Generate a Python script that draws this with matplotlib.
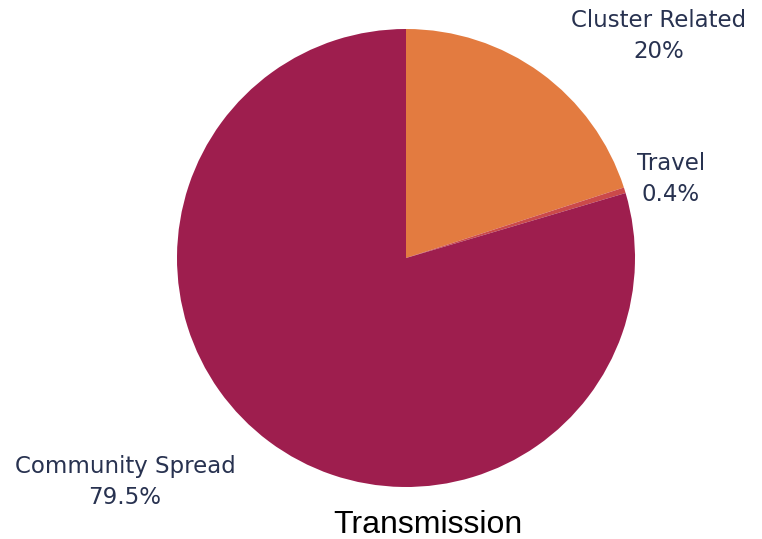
import matplotlib
matplotlib.use("Agg")
import matplotlib.pyplot as plt

categories = ["Cluster Related", "Travel", "Community Spread"]
values = [20.0, 0.4, 79.5]
pct_labels = ["20%", "0.4%", "79.5%"]
colors = ["#E37B40", "#CB4A4A", "#9E1E4E"]
title = "Transmission"

fig = plt.figure(figsize=(7.62, 5.39), dpi=100)
ax = fig.add_axes([(406 - 229) / 762, (539 - 487) / 539, 458 / 762, 458 / 539])
ax.pie(values, colors=colors, startangle=90, counterclock=False, radius=1.0,
       wedgeprops=dict(linewidth=0))
ax.set_xlim(-1, 1)
ax.set_ylim(-1, 1)
ax.set_aspect("equal")
ax.axis("off")

label_pos = [(1.105, 0.969), (1.157, 0.345), (-1.227, -0.978)]
for (x, y), c, p in zip(label_pos, categories, pct_labels):
    ax.text(x, y, f"{c}\n{p}", ha="center", va="center", fontsize=16.5,
            family="DejaVu Sans", color="#283250", linespacing=1.4, clip_on=False)

fig.text(428 / 762, 1 - 525 / 539, title, ha="center", va="center",
         fontsize=23, family="Liberation Sans", color="black")

fig.savefig("out.png", dpi=100)
